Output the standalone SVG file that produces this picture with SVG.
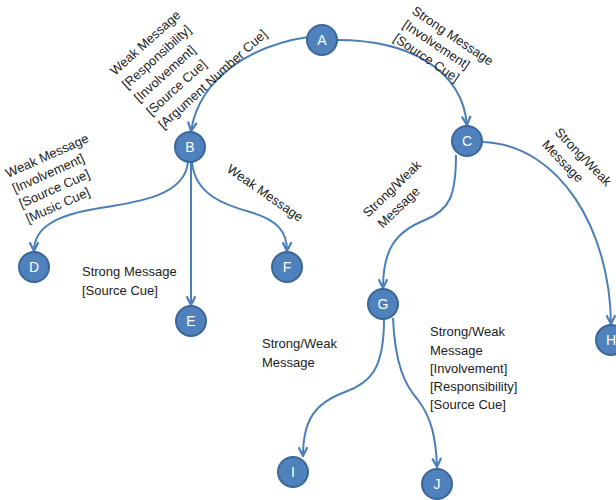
<svg xmlns="http://www.w3.org/2000/svg" width="616" height="500" viewBox="0 0 616 500">
<defs>
<style>
.node circle{fill:#4F81BD;stroke:#3A669A;stroke-width:2}
.node text{fill:#fff;font-family:"Liberation Sans",Arial,sans-serif;font-size:14px;text-anchor:middle}
.edge{fill:none;stroke:#4A7EBB;stroke-width:2}
.lbl{fill:#222;font-family:"Liberation Sans",Arial,sans-serif;font-size:13px}
</style>
<marker id="arr" viewBox="0 0 10 10" refX="9" refY="5" markerWidth="11" markerHeight="11" markerUnits="userSpaceOnUse" orient="auto">
<path d="M1,1 L9,5 L1,9" fill="none" stroke="#4A7EBB" stroke-width="2"/>
</marker>
</defs>
<rect width="616" height="500" fill="#fff"/>
<g id="connectors">
<path class="edge" marker-end="url(#arr)" d="M308,37 C255,45 200,75 191,131"/>
<path class="edge" marker-end="url(#arr)" d="M337,40 C410,40 462,70 467,125"/>
<path class="edge" marker-end="url(#arr)" d="M188,162 C185,195 140,202 100,208 C55,215 34,228 34,251"/>
<path class="edge" marker-end="url(#arr)" d="M191,163 L191,305"/>
<path class="edge" marker-end="url(#arr)" d="M192,162 C195,195 225,205 250,212 C278,220 287,232 287,251"/>
<path class="edge" marker-end="url(#arr)" d="M456,155 C456,195 450,210 425,220 C395,232 383,250 383,288"/>
<path class="edge" marker-end="url(#arr)" d="M483,142 C560,145 610,230 611,324"/>
<path class="edge" marker-end="url(#arr)" d="M384,319 C384,370 370,383 345,392 C315,403 303,420 303,456"/>
<path class="edge" marker-end="url(#arr)" d="M393,318 C395,365 405,385 418,400 C432,418 436,440 437,467"/>
</g>
<g id="labels">
<text class="lbl" transform="translate(115,76) rotate(-42)"><tspan x="0" y="0">Weak Message</tspan><tspan x="0" y="18">[Responsibility]</tspan><tspan x="0" y="36">[Involvement]</tspan><tspan x="0" y="54">[Source Cue]</tspan><tspan x="0" y="72">[Argument Number Cue]</tspan></text>
<text class="lbl" transform="translate(411,13) rotate(34)"><tspan x="0" y="0">Strong Message</tspan><tspan x="0" y="16.5">[Involvement]</tspan><tspan x="0" y="33">[Source Cue]</tspan></text>
<text class="lbl" transform="translate(8,178) rotate(-24)"><tspan x="0" y="0">Weak Message</tspan><tspan x="0" y="16.5">[Involvement]</tspan><tspan x="0" y="33">[Source Cue]</tspan><tspan x="0" y="49.5">[Music Cue]</tspan></text>
<text class="lbl" transform="translate(226,171) rotate(35)">Weak Message</text>
<text class="lbl"><tspan x="82" y="276">Strong Message</tspan><tspan x="82" y="294.5">[Source Cue]</tspan></text>
<text class="lbl" transform="translate(368,218) rotate(-44)"><tspan x="0" y="0">Strong/Weak</tspan><tspan x="3" y="18">Message</tspan></text>
<text class="lbl" transform="translate(554,133) rotate(46)"><tspan x="0" y="0">Strong/Weak</tspan><tspan x="0" y="17.7">Message</tspan></text>
<text class="lbl"><tspan x="262" y="348">Strong/Weak</tspan><tspan x="262" y="366.5">Message</tspan></text>
<text class="lbl"><tspan x="430" y="336">Strong/Weak</tspan><tspan x="430" y="354.5">Message</tspan><tspan x="430" y="373">[Involvement]</tspan><tspan x="430" y="391">[Responsibility]</tspan><tspan x="430" y="409">[Source Cue]</tspan></text>
</g>
<g id="node-A" class="node"><circle cx="322" cy="40" r="15"/><text x="322" y="45">A</text></g>
<g id="node-B" class="node"><circle cx="190" cy="147" r="15"/><text x="190" y="152">B</text></g>
<g id="node-C" class="node"><circle cx="467" cy="141" r="15"/><text x="467" y="146">C</text></g>
<g id="node-D" class="node"><circle cx="34" cy="267" r="15"/><text x="34" y="272">D</text></g>
<g id="node-E" class="node"><circle cx="191" cy="321" r="15"/><text x="191" y="326">E</text></g>
<g id="node-F" class="node"><circle cx="287" cy="267" r="15"/><text x="287" y="272">F</text></g>
<g id="node-G" class="node"><circle cx="383" cy="304" r="15"/><text x="383" y="309">G</text></g>
<g id="node-H" class="node"><circle cx="611" cy="340" r="15"/><text x="611" y="345">H</text></g>
<g id="node-I" class="node"><circle cx="293" cy="472" r="15"/><text x="293" y="477">I</text></g>
<g id="node-J" class="node"><circle cx="437" cy="484" r="15"/><text x="437" y="489">J</text></g>
</svg>
